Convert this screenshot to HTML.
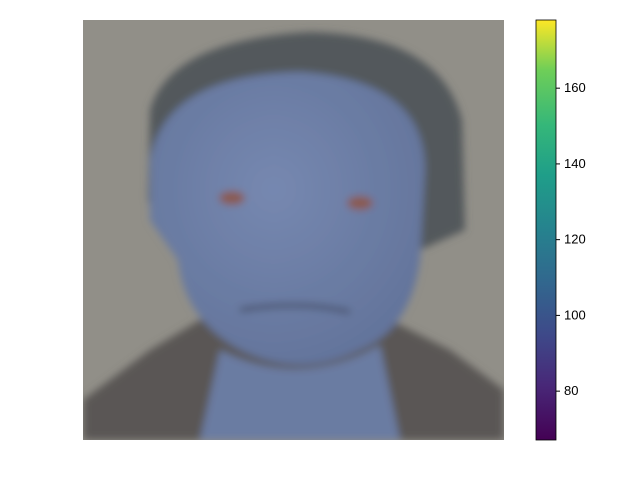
<!DOCTYPE html>
<html><head><meta charset="utf-8"><style>
body{margin:0;background:#fff;width:640px;height:480px;overflow:hidden;font-family:"Liberation Sans",sans-serif}
</style></head><body>
<svg width="640" height="480" viewBox="0 0 640 480">
<defs>
<linearGradient id="vir" x1="0" y1="1" x2="0" y2="0">
<stop offset="0" stop-color="#440154"/><stop offset="0.13" stop-color="#482878"/>
<stop offset="0.25" stop-color="#3e4989"/><stop offset="0.38" stop-color="#31688e"/>
<stop offset="0.5" stop-color="#26828e"/><stop offset="0.63" stop-color="#1f9e89"/>
<stop offset="0.75" stop-color="#35b779"/><stop offset="0.88" stop-color="#6ece58"/>
<stop offset="1" stop-color="#fde725"/></linearGradient>
<radialGradient id="face" cx="0.45" cy="0.4" r="0.6">
<stop offset="0" stop-color="#7688b0"/><stop offset="1" stop-color="#64759c"/></radialGradient>
<filter id="blur"><feGaussianBlur stdDeviation="4"/></filter>
<clipPath id="img"><rect x="83" y="20" width="421" height="420"/></clipPath>
</defs>
<g clip-path="url(#img)">
<rect x="83" y="20" width="421" height="420" fill="#918f88"/>
<g filter="url(#blur)">
<path d="M83 400 L150 350 L200 320 L390 320 L450 350 L504 390 L504 440 L83 440Z" fill="#5a5755"/>
<path d="M150 110 Q170 40 310 32 Q440 35 462 120 L465 230 L420 250 L420 150 L180 150 L160 230 L148 200Z" fill="#53585c"/>
<path d="M150 160 Q165 75 300 72 Q425 80 425 170 L420 260 Q410 330 360 350 Q300 380 240 350 Q185 320 178 260 L150 220Z" fill="url(#face)"/>
<path d="M220 350 Q300 390 380 345 L400 440 L200 440Z" fill="#6a7ca2"/>
<ellipse cx="232" cy="198" rx="13" ry="7" fill="#8a5a50"/>
<ellipse cx="360" cy="203" rx="13" ry="7" fill="#8a5a50"/>
<path d="M240 310 Q300 300 350 312" stroke="#4b5570" stroke-width="5" fill="none"/>
</g>
</g>
<g>
<rect x="536" y="20" width="20" height="420" fill="url(#vir)" stroke="#000" stroke-width="0.8"/>
<g id="ticks"></g>
</g>
</svg>
<script>
const tickValues=[80,100,120,140,160];
const vmin=67.1, vmax=178;
const g=document.getElementById('ticks');
function y(v){return 440-(v-vmin)/(vmax-vmin)*420;}
tickValues.forEach(v=>{
 const l=document.createElementNS('http://www.w3.org/2000/svg','line');
 l.setAttribute('x1',556);l.setAttribute('x2',560);l.setAttribute('y1',y(v));l.setAttribute('y2',y(v));l.setAttribute('stroke','#000');
 
 
 g.appendChild(l);
 const t=document.createElementNS('http://www.w3.org/2000/svg','text');
 t.setAttribute('x',564);t.setAttribute('y',y(v)+4);t.setAttribute('font-size','13');t.textContent=v;
 
 
 g.appendChild(t);
});
</script>
</body></html>
